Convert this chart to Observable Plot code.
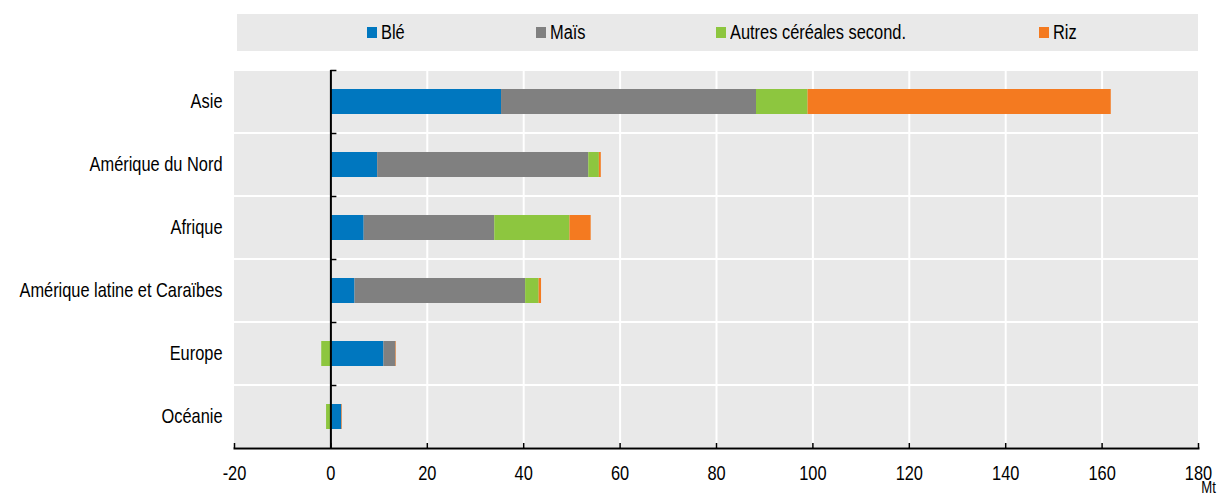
<!DOCTYPE html>
<html><head><meta charset="utf-8">
<script src="https://cdn.jsdelivr.net/npm/d3@7"></script>
<script src="https://cdn.jsdelivr.net/npm/@observablehq/plot@0.6"></script>
<style>
body{margin:0;background:#fff;font-family:"Liberation Sans Narrow","Liberation Sans",Arial,sans-serif;}
#wrap{position:relative;width:1223px;height:496px;}
#legend{position:absolute;left:237px;top:14px;width:961px;height:37px;background:#e9e9e9;}
.sw{position:absolute;top:13px;width:10px;height:11px;}
.lt{position:absolute;top:8px;font-size:20px;line-height:20px;white-space:nowrap;color:#000;transform:scaleX(0.82);transform-origin:0 50%;}
#chart{position:absolute;left:0;top:60px;}
</style></head>
<body><div id="wrap"><div id="legend"></div><div id="chart"></div></div>
<script>
const regions = ["Asie","Amérique du Nord","Afrique","Amérique latine et Caraïbes","Europe","Océanie"];
const series = ["Blé","Maïs","Autres céréales second.","Riz"];
const ble = [35.4, 9.7, 6.9, 5.0, 11.0, 2.2];
const mais = [52.9, 43.8, 27.1, 35.4, 2.5, 0.1];
const autres = [10.7, 2.2, 15.6, 2.8, -1.9, -0.9];
const riz = [62.9, 0.4, 4.4, 0.5, 0.1, 0.1];
const xTicks = [-20, 0, 20, 40, 60, 80, 100, 120, 140, 160, 180];
const xDomain = [-20, 180];
const colors = ["#0077bf", "#808080", "#8dc63f", "#f47a20"];
const unit = "Mt";

const seriesValues = [ble, mais, autres, riz];
const data = [];
regions.forEach((r, i) => series.forEach((s, j) => data.push({region: r, series: s, value: seriesValues[j][i]})));

// legend (HTML)
const legendLeft = [130, 299, 479, 802];
const legend = document.getElementById("legend");
series.forEach((s, j) => {
  const sw = document.createElement("div");
  sw.className = "sw"; sw.style.left = legendLeft[j] + "px"; sw.style.background = colors[j];
  const t = document.createElement("div");
  t.className = "lt"; t.style.left = (legendLeft[j] + 14) + "px"; t.textContent = s;
  legend.appendChild(sw); legend.appendChild(t);
});

const W = 1223, H = 436, mT = 10, mB = 48, mL = 234, mR = 25;
const FS = 20, FS_UNIT = 16;
const step = (H - mT - mB) / regions.length;
const pxPerUnit = (W - mL - mR) / (xDomain[1] - xDomain[0]);
const font = '"Liberation Sans Narrow","Liberation Sans",Arial,sans-serif';

const chart = Plot.plot({
  width: W, height: H,
  marginTop: mT, marginBottom: mB, marginLeft: mL, marginRight: mR,
  style: {fontFamily: font, fontSize: FS + "px", background: "white", color: "black"},
  x: {domain: xDomain},
  y: {domain: regions, padding: 0},
  color: {domain: series, range: colors},
  marks: [
    Plot.barX(regions, {x1: xDomain[0], x2: xDomain[1], y: d => d, fill: "#e9e9e9", insetTop: 1, insetBottom: 1}),
    Plot.ruleX(xTicks.filter(d => d !== 0 && d > xDomain[0] && d < xDomain[1]), {x: d => d, stroke: "white", strokeWidth: 2}),
    Plot.barX(data, Plot.stackX({x: "value", y: "region", fill: "series", insetTop: 19, insetBottom: 19})),
    Plot.ruleX([0], {stroke: "black", strokeWidth: 2}),
    Plot.ruleY(regions, {y: d => d, x1: 0, x2: 6 / pxPerUnit, dy: -step / 2, stroke: "black", strokeWidth: 1.5}),
    Plot.frame({anchor: "bottom", stroke: "black", strokeWidth: 2}),
    Plot.tickX(xTicks, {x: d => d, y: () => regions[regions.length - 1], insetTop: step - 5, stroke: "black", strokeWidth: 1.5}),
    Plot.axisX({ticks: xTicks, tickSize: 0, tickPadding: 17, tickFormat: d => String(d), fontSize: FS, label: null}),
    Plot.axisY({tickSize: 0, tickPadding: 12, fontSize: FS, label: null}),
    Plot.text([unit], {frameAnchor: "bottom-right", text: d => d, dx: 10, dy: 44, fontSize: FS_UNIT, textAnchor: "middle", className: "unit-label"})
  ]
});

// emulate a narrow face: condense every text horizontally around its anchor
d3.select(chart).selectAll("text").each(function() {
  const t = d3.select(this);
  const size = this.closest(".unit-label") ? FS_UNIT : FS;
  const toPx = v => {
    if (v == null) return 0;
    const s = String(v);
    return s.endsWith("em") ? parseFloat(s) * size : (parseFloat(s) || 0);
  };
  const tr = t.attr("transform") || "";
  const x = toPx(t.attr("x")), y = toPx(t.attr("y"));
  const dx = toPx(t.attr("dx")), dy = toPx(t.attr("dy"));
  t.attr("x", null).attr("y", null).attr("dx", null).attr("dy", null)
   .style("font-size", size + "px")
   .attr("transform", `${tr} translate(${x + dx},${y + dy}) scale(0.82,1)`);
});
document.getElementById("chart").appendChild(chart);
</script>
</body></html>
